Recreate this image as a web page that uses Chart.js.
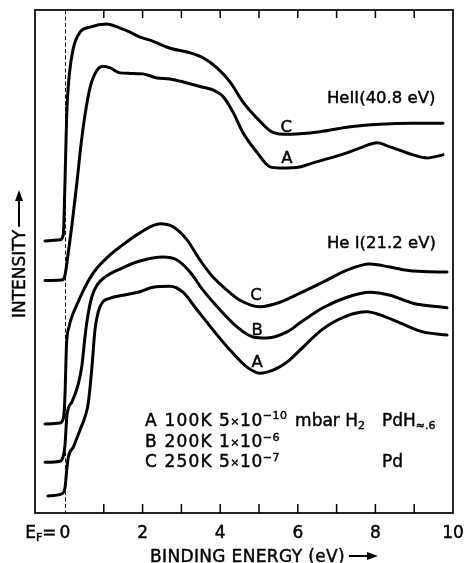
<!DOCTYPE html>
<html><head><meta charset="utf-8">
<script src="https://cdn.jsdelivr.net/npm/chart.js@4/dist/chart.umd.min.js"></script>
<style>html,body{margin:0;padding:0;background:#fff}</style>
</head><body>
<canvas id="c" width="470" height="563"></canvas>
<script>
// ---- data: [binding energy (eV), intensity (arb. units)] ----
const heII_C = [[-0.515,54.1],[-0.129,54.3],[-0.044,55.3],[0,65.8],[0.044,79.1],[0.111,87.1],[0.214,92.4],[0.387,95.6],[0.644,96.6],[1.075,97.2],[1.418,96.4],[1.675,95.6],[1.933,94.6],[2.191,94.0],[2.711,92.4],[3.222,91.5],[3.557,90.5],[3.918,88.5],[4.253,85.7],[4.588,81.7],[4.948,78.5],[5.284,76.0],[5.619,75.3],[6.057,75.4],[6.572,75.8],[7.268,76.7],[8.119,77.3],[8.969,77.5],[9.742,77.5]];
const heII_A = [[-0.515,46.2],[-0.085,46.3],[0,47.3],[0.077,51.3],[0.180,57.3],[0.309,65.8],[0.412,73.2],[0.515,79.1],[0.644,84.5],[0.799,87.7],[0.979,88.8],[1.160,88.5],[1.418,87.5],[1.675,87.4],[2.010,87.3],[2.371,86.5],[2.706,86.3],[3.144,85.5],[3.479,84.8],[3.814,84.1],[4.072,82.8],[4.330,79.7],[4.588,75.6],[4.948,71.7],[5.284,68.8],[5.541,68.6],[6.057,68.8],[6.392,69.6],[7.268,71.6],[7.680,72.8],[8.041,73.6],[8.376,72.8],[8.969,71.2],[9.330,70.6],[9.742,71.2]];
const heI_C = [[-0.515,17.7],[-0.129,17.9],[-0.039,18.9],[0,23.5],[0.039,33.4],[0.103,37.0],[0.206,39.6],[0.335,41.9],[0.490,44.5],[0.644,46.7],[0.825,48.7],[1.160,51.3],[1.418,52.9],[1.933,55.7],[2.448,57.5],[2.784,56.9],[3.144,54.3],[3.479,50.3],[3.814,46.9],[4.175,44.3],[4.510,42.3],[5.026,41.0],[5.541,41.9],[6.057,43.7],[6.649,45.9],[7.268,48.3],[7.861,49.5],[8.376,48.9],[8.969,48.1],[9.845,47.9]];
const heI_B = [[-0.515,10.1],[-0.129,10.3],[-0.044,11.3],[0,13.5],[0.052,19.5],[0.180,22.1],[0.335,25.4],[0.438,29.4],[0.515,35.0],[0.593,39.4],[0.696,43.1],[0.825,45.3],[1.031,46.9],[1.418,48.5],[1.933,50.1],[2.526,50.9],[2.887,50.3],[3.222,47.9],[3.557,44.3],[3.995,40.4],[4.433,37.0],[4.845,35.0],[5.206,34.8],[5.722,36.0],[6.057,37.8],[6.649,40.8],[7.268,42.9],[7.861,43.9],[8.376,43.3],[8.969,41.7],[9.845,40.8]];
const heI_A = [[-0.438,3.4],[-0.085,3.8],[0,5.0],[0.044,8.5],[0.085,11.1],[0.214,13.1],[0.387,16.5],[0.515,19.1],[0.601,21.9],[0.688,28.4],[0.773,36.4],[0.902,41.0],[1.160,42.7],[1.495,43.3],[1.933,44.0],[2.268,44.9],[2.706,45.1],[3.041,43.9],[3.402,40.4],[3.814,36.4],[4.253,32.4],[4.691,29.0],[5.026,27.8],[5.361,28.4],[5.722,30.0],[6.057,32.4],[6.649,36.6],[7.268,39.2],[7.784,40.0],[8.119,39.4],[8.634,37.8],[9.227,36.0],[9.845,35.4]];

const xTickValues = [0, 2, 4, 6, 8, 10];
const xTickLabels = ['0', '2', '4', '6', '8', '10'];
const xMinorTicks = [1, 2, 3, 4, 5, 6, 7, 8, 9];
const fermiLevel = 0;
const xMin = -0.773, xMax = 10, yMin = 0, yMax = 100;

// ---- annotation placement (data coordinates) ----
const FONT = '"DejaVu Sans", "Liberation Sans", sans-serif';
const curveLabels = [
  {segs:[{t:'HeII(40.8 eV)'}], e:6.75, i:81.5, align:'left'},
  {segs:[{t:'He I(21.2 eV)'}], e:6.75, i:52.7, align:'left'},
  {segs:[{t:'C'}], e:5.70, i:75.7, align:'center'},
  {segs:[{t:'A'}], e:5.72, i:69.5, align:'center'},
  {segs:[{t:'C'}], e:4.92, i:42.3, align:'center'},
  {segs:[{t:'B'}], e:4.95, i:35.4, align:'center'},
  {segs:[{t:'A'}], e:4.95, i:29.0, align:'center'}
];
const SUP = {size:11, dy:-6.5};
const SUB = {size:11, dy:3.5};
const X = {size:11, dy:-1};
const legendRows = [
  {i:17.3, key:'A', temp:'100K', pres:[{t:'5'},{t:'×',...X},{t:'10'},{t:'−10',...SUP}], gas:[{t:'mbar H'},{t:'2',...SUB}], mat:[{t:'PdH'},{t:'≈.6',...SUB}]},
  {i:13.1, key:'B', temp:'200K', pres:[{t:'1'},{t:'×',...X},{t:'10'},{t:'−6',...SUP}], gas:null, mat:null},
  {i:9.05, key:'C', temp:'250K', pres:[{t:'5'},{t:'×',...X},{t:'10'},{t:'−7',...SUP}], gas:null, mat:[{t:'Pd'}]}
];
const legendCols = {key:2.06, tempRight:3.81, pres:3.97, gas:5.93, mat:8.17};

function rich(ctx, segs, x, y, align, base, ls) {
  let w = 0;
  const ms = segs.map(s => {
    ctx.font = (s.size || base) + 'px ' + FONT;
    ctx.letterSpacing = (s.ls !== undefined ? s.ls : ls) + 'px';
    const m = ctx.measureText(s.t).width; w += m; return m;
  });
  let cx = align === 'right' ? x - w : align === 'center' ? x - w / 2 : x;
  segs.forEach((s, k) => {
    ctx.font = (s.size || base) + 'px ' + FONT;
    ctx.letterSpacing = (s.ls !== undefined ? s.ls : ls) + 'px';
    ctx.textAlign = 'left';
    ctx.fillText(s.t, cx, y + (s.dy || 0));
    ctx.lineWidth = 0.45;
    ctx.strokeText(s.t, cx, y + (s.dy || 0));
    cx += ms[k];
  });
  return w;
}

const decor = {
  id: 'decor',
  beforeDatasetsDraw(chart) {
    const {ctx, chartArea: a, scales: {x}} = chart;
    ctx.save();
    ctx.strokeStyle = '#000'; ctx.lineWidth = 1; ctx.setLineDash([4, 2.5]);
    const px = Math.round(x.getPixelForValue(fermiLevel)) + 0.5;
    ctx.beginPath(); ctx.moveTo(px, a.top); ctx.lineTo(px, a.bottom); ctx.stroke();
    ctx.restore();
  },
  afterDraw(chart) {
    const {ctx, chartArea: a, scales: {x, y}} = chart;
    ctx.save();
    ctx.fillStyle = '#000'; ctx.strokeStyle = '#000';
    // frame
    ctx.lineWidth = 1.7;
    ctx.strokeRect(a.left, a.top, a.right - a.left, a.bottom - a.top);
    // inward ticks
    ctx.lineWidth = 1.5;
    xMinorTicks.forEach(v => {
      const px = x.getPixelForValue(v);
      ctx.beginPath();
      ctx.moveTo(px, a.top); ctx.lineTo(px, a.top + 8);
      ctx.moveTo(px, a.bottom); ctx.lineTo(px, a.bottom - 9);
      ctx.stroke();
    });
    // tick labels
    ctx.textBaseline = 'alphabetic';
    const tb = a.bottom + 25;
    xTickValues.forEach((v, k) => {
      const px = x.getPixelForValue(v);
      const w = rich(ctx, [{t: xTickLabels[k]}], px, tb, 'center', 17, 0);
      if (v === fermiLevel) {
        rich(ctx, [{t:'E'}, {t:'F', size:11, dy:2.5}, {t:'=', ls:2}], px - w / 2 - 1, tb, 'right', 17, 0);
      }
    });
    // x title
    const tx = 150, ty = a.bottom + 49;
    const tw = rich(ctx, [{t:'BINDING ENERGY (eV)'}], tx, ty, 'left', 17, 0.35);
    const ay = ty - 6, ax0 = tx + tw + 4, ax1 = ax0 + 29;
    ctx.lineWidth = 2;
    ctx.beginPath(); ctx.moveTo(ax0, ay); ctx.lineTo(ax1 - 8, ay); ctx.stroke();
    ctx.beginPath(); ctx.moveTo(ax1, ay); ctx.lineTo(ax1 - 11, ay - 4); ctx.lineTo(ax1 - 11, ay + 4); ctx.closePath(); ctx.fill();
    // y title (rotated), bottom of text at y=318, arrow tip at y=190
    ctx.save();
    ctx.translate(25, 318);
    ctx.rotate(-Math.PI / 2);
    const yw = rich(ctx, [{t:'INTENSITY'}], 0, 0, 'left', 17, 0);
    const b0 = yw + 3, b1 = 318 - 190, by = -6;
    ctx.lineWidth = 2;
    ctx.beginPath(); ctx.moveTo(b0, by); ctx.lineTo(b1 - 8, by); ctx.stroke();
    ctx.beginPath(); ctx.moveTo(b1, by); ctx.lineTo(b1 - 11, by - 4); ctx.lineTo(b1 - 11, by + 4); ctx.closePath(); ctx.fill();
    ctx.restore();
    // curve labels
    curveLabels.forEach(l => rich(ctx, l.segs, x.getPixelForValue(l.e), y.getPixelForValue(l.i), l.align, 16.5, 0));
    // legend
    legendRows.forEach(r => {
      const by2 = y.getPixelForValue(r.i);
      rich(ctx, [{t:r.key}], x.getPixelForValue(legendCols.key), by2, 'left', 17, 0);
      rich(ctx, [{t:r.temp}], x.getPixelForValue(legendCols.tempRight), by2, 'right', 17, 1.2);
      rich(ctx, r.pres, x.getPixelForValue(legendCols.pres), by2, 'left', 17, 0.5);
      if (r.gas) rich(ctx, r.gas, x.getPixelForValue(legendCols.gas), by2, 'left', 17, 0);
      if (r.mat) rich(ctx, r.mat, x.getPixelForValue(legendCols.mat), by2, 'left', 17, 0);
    });
    ctx.restore();
  }
};

const series = [heII_C, heII_A, heI_C, heI_B, heI_A];
new Chart(document.getElementById('c'), {
  type: 'line',
  data: {
    datasets: series.map(s => ({
      data: s.map(p => ({x: p[0], y: p[1]})),
      borderColor: '#000', borderWidth: 3, pointRadius: 0,
      cubicInterpolationMode: 'monotone', fill: false,
      borderCapStyle: 'round', borderJoinStyle: 'round'
    }))
  },
  options: {
    responsive: false, animation: false, devicePixelRatio: 1, events: [],
    layout: {padding: {left: 35, right: 17, top: 10, bottom: 50}},
    scales: {
      x: {type: 'linear', min: xMin, max: xMax, display: false},
      y: {type: 'linear', min: yMin, max: yMax, display: false}
    },
    plugins: {legend: {display: false}, tooltip: {enabled: false}}
  },
  plugins: [decor]
});
</script>
</body></html>
